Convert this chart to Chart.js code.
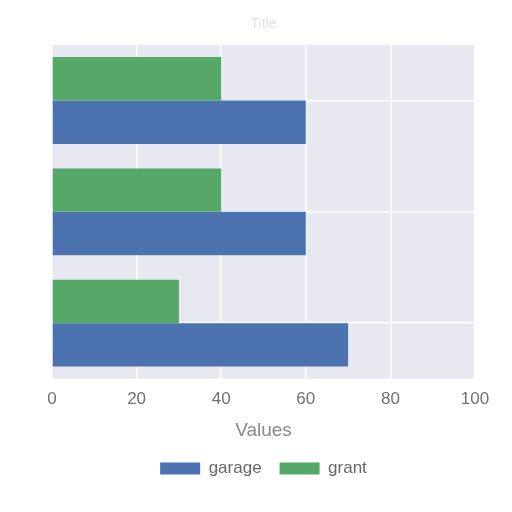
<!DOCTYPE html>
<html>
<head>
<meta charset="utf-8">
<script src="https://cdn.jsdelivr.net/npm/chart.js@4/dist/chart.umd.min.js"></script>
<style>
  html, body { margin: 0; padding: 0; background: #ffffff; }
  #wrap { width: 512px; height: 512px; }
</style>
</head>
<body>
<div id="wrap"><canvas id="chart"></canvas></div>
<script>
const categories = ["A", "B", "C"];
const garageValues = [60, 60, 70];
const grantValues = [40, 40, 30];
const xTicks = [0, 20, 40, 60, 80, 100];

// Paint the plot area background before the bars
const plotBackground = {
    id: "plotBackground",
    beforeDraw(chart) {
        const { ctx, chartArea } = chart;
        ctx.save();
        ctx.fillStyle = "#e8e8f0";
        ctx.fillRect(chartArea.left, chartArea.top, chartArea.width, chartArea.height);
        ctx.restore();
    },
};

new Chart(document.getElementById("chart"), {
    type: "bar",
    data: {
        labels: categories,
        datasets: [
            {
                label: "grant",
                data: grantValues,
                backgroundColor: "#55a868",
                borderWidth: 0,
                barPercentage: 1,
                categoryPercentage: 0.78,
            },
            {
                label: "garage",
                data: garageValues,
                backgroundColor: "#4c72b0",
                borderWidth: 0,
                barPercentage: 1,
                categoryPercentage: 0.78,
            },
        ],
    },
    options: {
        indexAxis: "y",
        responsive: true,
        maintainAspectRatio: false,
        animation: false,
        layout: { padding: { left: 52, right: 37, top: 0, bottom: 25 } },
        plugins: {
            title: {
                display: true,
                text: "Title",
                color: "#e2e2e2",
                font: { family: "Liberation Sans", size: 14, weight: "normal" },
                padding: { top: 16, bottom: 12 },
            },
            legend: {
                position: "bottom",
                reverse: true,
                labels: {
                    boxWidth: 40,
                    boxHeight: 12,
                    padding: 18,
                    color: "#666666",
                    font: { family: "Liberation Sans", size: 17 },
                },
            },
            tooltip: { enabled: false },
        },
        scales: {
            x: {
                min: 0,
                max: 100,
                afterBuildTicks: (axis) => {
                    axis.ticks = xTicks.map((v) => ({ value: v }));
                },
                grid: { color: "#ffffff", lineWidth: 1.5, drawTicks: false },
                border: { display: false },
                ticks: {
                    color: "#707070",
                    padding: 10,
                    font: { family: "Liberation Sans", size: 17 },
                },
                title: {
                    display: true,
                    text: "Values",
                    color: "#888888",
                    font: { family: "Liberation Sans", size: 19 },
                    padding: { top: 0, bottom: 0 },
                },
            },
            y: {
                grid: { color: "#ffffff", lineWidth: 1.5, offset: false, drawTicks: false },
                border: { display: false },
                ticks: { display: false },
            },
        },
    },
    plugins: [plotBackground],
});
</script>
</body>
</html>
